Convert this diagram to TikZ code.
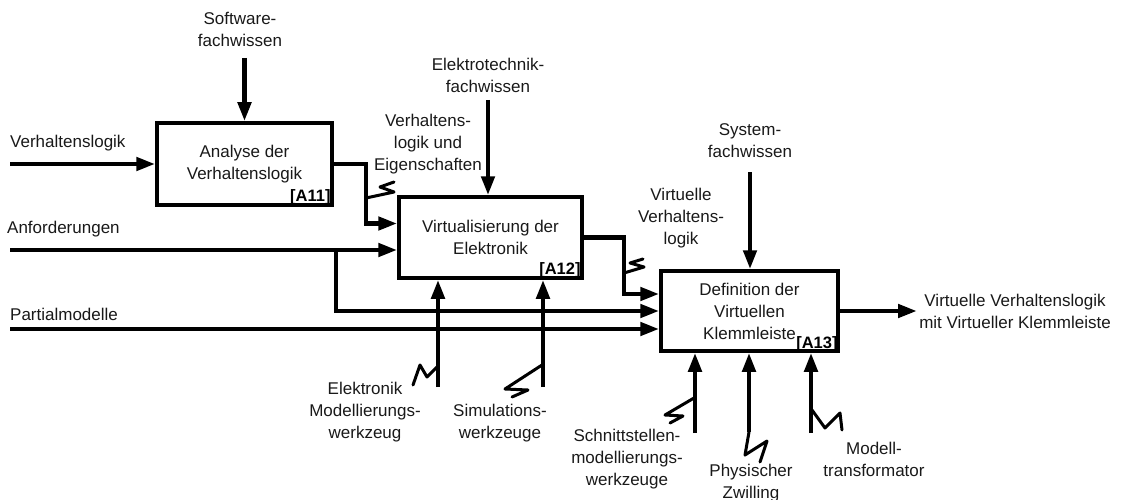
\documentclass[tikz,border=0pt]{standalone}
\usepackage{fontspec}
\setmainfont{Liberation Sans}
\usetikzlibrary{arrows.meta}
\begin{document}
\begin{tikzpicture}[x=1pt,y=-1pt,
  every node/.style={inner sep=0pt, font=\fontsize{17}{22}\selectfont, text=black!90},
  lbl/.style={align=center},
  box/.style={draw, line width=3.5pt, fill=white, align=center},
  tag/.style={anchor=south east, font=\fontsize{16.5}{16.5}\selectfont\bfseries, text=black},
  conn/.style={line width=4.5pt, -{Triangle[length=19pt,width=13pt]}},
  squig/.style={line width=3pt, line join=round, line cap=round}]
\useasboundingbox (0,0) rectangle (1123,500);

% activity boxes
\node[box, minimum width=175pt, minimum height=82pt] (a11) at (244.5,164) {Analyse der\\Verhaltenslogik};
\node[box, minimum width=183pt, minimum height=81pt] (a12) at (490.5,237.5) {Virtualisierung der\\Elektronik};
\node[box, minimum width=177pt, minimum height=80pt] (a13) at (749.5,311) {Definition der\\Virtuellen\\Klemmleiste};
\node[tag] (t11) at ([xshift=-3pt,yshift=2pt]a11.south east) {[A11]};
\node[tag] (t12) at ([xshift=-3pt,yshift=2pt]a12.south east) {[A12]};
\node[tag] (t13) at ([xshift=-2pt,yshift=1pt]a13.south east) {[A13]};

% inputs
\coordinate (vl) at (10,164);
\coordinate (anfb) at (336,250);
\coordinate (part) at (10,329);
\node[anchor=west] (lvl) at (10,143) {Verhaltenslogik};
\node[anchor=west] (lanf) at (7,229) {Anforderungen};
\node[anchor=west] (lpart) at (10,314) {Partialmodelle};

\draw[conn] (vl) -- (vl -| a11.west);
\draw[conn] (10,250) -- (a12.west |- anfb);
\draw[conn] (anfb) |- (a13.west);
\draw[conn] (part) -- ([yshift=-18pt]a13.west);

% flows between the activities
\draw[conn] (a11.east) -- ++(32,0) |- ([yshift=14pt]a12.west);
\draw[conn] (a12.east) -- ++(40,0) |- ([yshift=17pt]a13.west);
\draw[squig] (366,198) -- (394,192) -- (380,187) -- (394,182);
\draw[squig] (624,273) -- (644,267) -- (630,263) -- (643,259);
\node[lbl] (lvle) at (428,144) {Verhaltens-\\logik und\\Eigenschaften};
\node[lbl] (lvvl) at (681,218) {Virtuelle\\Verhaltens-\\logik};

% output
\coordinate (out) at (917,311);
\draw[conn] (a13.east) -- (out);
\node[lbl] (lout) at (1015,311) {Virtuelle Verhaltenslogik\\mit Virtueller Klemmleiste};

% controls
\coordinate (sw) at (244.5,58);
\coordinate (et) at (488,100);
\coordinate (sy) at (750,172);
\node[lbl] (lsw) at (240,29) {Software-\\fachwissen};
\node[lbl] (let) at (488,75) {Elektrotechnik-\\fachwissen};
\node[lbl] (lsy) at (750,141) {System-\\fachwissen};
\draw[conn] (sw) -- (sw |- a11.north);
\draw[conn] (et) -- (et |- a12.north);
\draw[conn] (sy) -- (sy |- a13.north);

% mechanisms
\coordinate (m1) at (438,387);
\coordinate (m2) at (543,387);
\coordinate (m3) at (695,433);
\coordinate (m4) at (749,432);
\coordinate (m5) at (811,433);
\draw[conn] (m1) -- (m1 |- a12.south);
\draw[conn] (m2) -- (m2 |- a12.south);
\draw[conn] (m3) -- (m3 |- a13.south);
\draw[conn] (m4) -- (m4 |- a13.south);
\draw[conn] (m5) -- (m5 |- a13.south);
\draw[squig] (437,367) -- (427,377) -- (420,365) -- (413,385);
\draw[squig] (542,365) -- (505,389) -- (528,390) -- (512,397);
\draw[squig] (694,398) -- (665,415) -- (683,416) -- (670,423);
\draw[squig] (749,432) -- (745,455) -- (767,441) -- (760,462);
\draw[squig] (812,410) -- (825,428) -- (840,413) -- (842,430);

\node[lbl] (lm1) at (365,412) {Elektronik\\Modellierungs-\\werkzeug};
\node[lbl] (lm2) at (500,423) {Simulations-\\werkzeuge};
\node[lbl] (lm3) at (627,459) {Schnittstellen-\\modellierungs-\\werkzeuge};
\node[lbl] (lm4) at (751,483) {Physischer\\Zwilling};
\node[lbl] (lm5) at (874,459) {Modell-\\transformator};
\end{tikzpicture}
\end{document}
